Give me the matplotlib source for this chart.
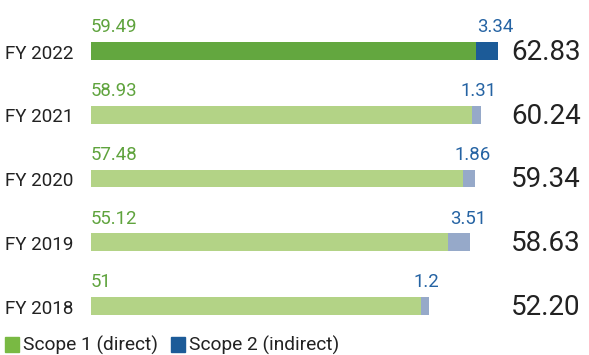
"""
plot.py - Scope 1 / Scope 2 emissions by fiscal year, stacked horizontal bars
"""
import matplotlib
matplotlib.use("Agg")
import matplotlib.pyplot as plt
from matplotlib.patches import Rectangle

plt.rcParams['font.family'] = ['Roboto', 'DejaVu Sans']

# data, bottom to top
years = ["FY 2018", "FY 2019", "FY 2020", "FY 2021", "FY 2022"]
scope1 = [51, 55.12, 57.48, 58.93, 59.49]
scope2 = [1.2, 3.51, 1.86, 1.31, 3.34]
scope1_labels = ["51", "55.12", "57.48", "58.93", "59.49"]
scope2_labels = ["1.2", "3.51", "1.86", "1.31", "3.34"]
totals = ["52.20", "58.63", "59.34", "60.24", "62.83"]

# colours: latest year highlighted, others muted
s1_dark, s2_dark = "#63a73f", "#1c5b98"
s1_light, s2_light = "#b3d386", "#96a9c9"
green_txt, blue_txt = "#5fa33d", "#2563a3"
dark_txt = "#222222"

fig = plt.figure(figsize=(5.89, 3.55), dpi=100)
W, H = 589, 355
ax = fig.add_axes([91 / W, 0, 490 / W, 1])
ax.set_xlim(0, 490 / 6.47)
ax.set_ylim(-0.769, 4.8)
ax.axis('off')

n = len(years)
for i in range(n):
    latest = (i == n - 1)
    c1 = s1_dark if latest else s1_light
    c2 = s2_dark if latest else s2_light
    ax.barh(i, scope1[i], height=0.28, color=c1, edgecolor='none')
    ax.barh(i, scope2[i], left=scope1[i], height=0.28, color=c2, edgecolor='none')

    # value labels above the bar
    ax.text(0, i + 0.37, scope1_labels[i], ha='left', va='center',
            fontsize=13.4, color=green_txt)
    end = scope1[i] + scope2[i]
    ax.text(end - 0.4, i + 0.37, scope2_labels[i], ha='center', va='center',
            fontsize=13.4, color=blue_txt)

    # totals on the right
    ax.text(1.0, i - 0.02, totals[i], transform=ax.get_yaxis_transform(),
            ha='right', va='center', fontsize=20, color=dark_txt)

    # year labels on the left
    y_fig = ax.transData.transform((0, i - 0.04))[1]
    fig.text(5 / W, y_fig / H, years[i], ha='left', va='center',
             fontsize=13.6, color=dark_txt)

# legend drawn by hand at the bottom
for x0, col, lab in [(5, "#79b943", "Scope 1 (direct)"),
                     (171, "#1c5b98", "Scope 2 (indirect)")]:
    fig.patches.append(Rectangle((x0 / W, 3 / H), 14 / W, 15 / H,
                                 transform=fig.transFigure, color=col))
    fig.text((x0 + 18) / W, 10 / H, lab, ha='left', va='center',
             fontsize=13.8, color=dark_txt)

fig.savefig("out.png", dpi=100, facecolor='white')
